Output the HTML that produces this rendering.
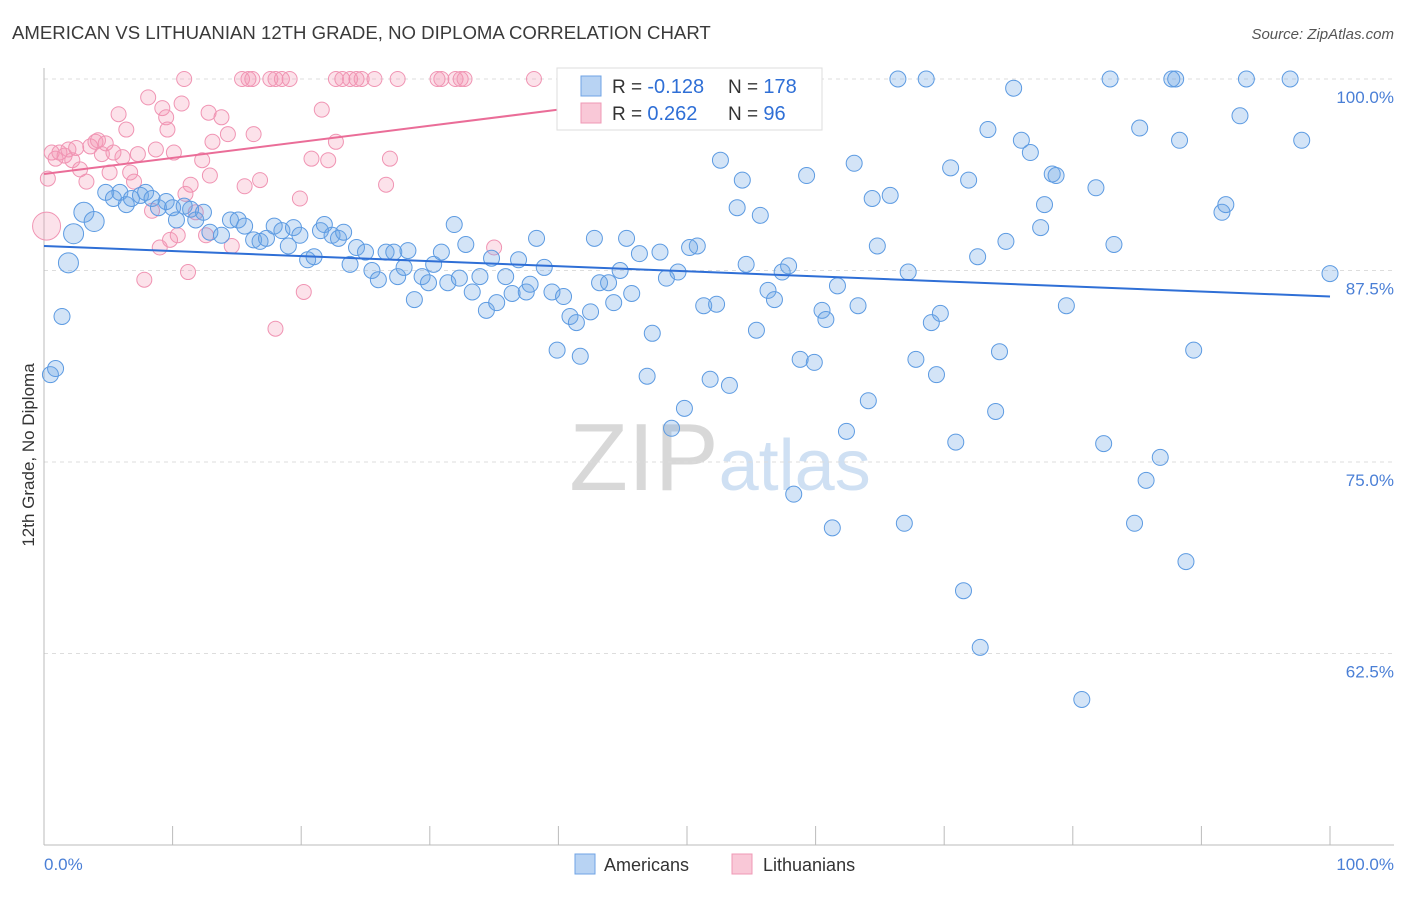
<!DOCTYPE html>
<html><head><meta charset="utf-8">
<style>
body{margin:0;background:#fff;font-family:"Liberation Sans",sans-serif;}
svg text{font-family:"Liberation Sans",sans-serif;}
</style></head>
<body>
<svg id="chart" width="1406" height="892" xmlns="http://www.w3.org/2000/svg">
<text x="12" y="39" font-size="18.6" fill="#3a3a3a">AMERICAN VS LITHUANIAN 12TH GRADE, NO DIPLOMA CORRELATION CHART</text>
<text x="1394" y="39" font-size="15" fill="#555" text-anchor="end" font-style="italic">Source: ZipAtlas.com</text>
<text x="720" y="490" font-size="96" fill="#ddd" text-anchor="middle" font-family="Liberation Serif"><tspan fill="#d8d8d8">ZIP</tspan><tspan fill="#cfe0f3" font-family="Liberation Sans" font-size="72">atlas</tspan></text>
<g id="grid"></g>
<g id="axes"></g>
<g id="pts"></g>
<g id="trends"></g>
<text transform="translate(34,455) rotate(-90)" font-size="17" fill="#333" text-anchor="middle">12th Grade, No Diploma</text>
<text x="44" y="870" font-size="17" fill="#4a7fd6">0.0%</text>
<text x="1394" y="870" font-size="17" fill="#4a7fd6" text-anchor="end">100.0%</text>
<g>
<rect x="557" y="68" width="265" height="62" fill="#fff" stroke="#ddd"/>
<rect x="581" y="76" width="20" height="20" fill="#b8d3f3" stroke="#6fa3e4"/>
<rect x="581" y="103" width="20" height="20" fill="#f9c8d7" stroke="#ef98b5"/>
<text x="612" y="93" font-size="19" fill="#333">R = <tspan fill="#2f6fd6" font-size="20">-0.128</tspan></text>
<text x="728" y="93" font-size="19" fill="#333">N = <tspan fill="#2f6fd6" font-size="20">178</tspan></text>
<text x="612" y="120" font-size="19" fill="#333">R = <tspan fill="#2f6fd6" font-size="20"> 0.262</tspan></text>
<text x="728" y="120" font-size="19" fill="#333">N = <tspan fill="#2f6fd6" font-size="20"> 96</tspan></text>
</g>
<g>
<rect x="575" y="854" width="20" height="20" fill="#b8d3f3" stroke="#6fa3e4"/>
<text x="604" y="871" font-size="18" fill="#333">Americans</text>
</g>
<g>
<rect x="732" y="854" width="20" height="20" fill="#f9c8d7" stroke="#ef98b5"/>
<text x="763" y="871" font-size="18" fill="#333">Lithuanians</text>
</g>
</svg>
<script>
const yTicks=[100,87.5,75,62.5];
const yTickLabels=["100.0%","87.5%","75.0%","62.5%"];
const xTicks=[0,10,20,30,40,50,60,70,80,90,100];
const blueX=[0.5,0.9,1.4,1.9,2.3,3.1,3.9,4.8,5.4,5.9,6.4,6.8,7.5,7.9,8.4,8.9,9.5,10.0,10.3,10.9,11.4,11.8,12.4,12.9,13.8,14.5,15.1,15.6,16.3,16.8,17.3,17.9,18.5,19.0,19.4,19.9,20.5,21.0,21.5,21.8,22.4,22.9,23.3,23.8,24.3,25.0,25.5,26.0,26.6,27.2,27.5,28.0,28.3,28.8,29.4,29.9,30.3,30.9,31.4,31.9,32.3,32.8,33.3,33.9,34.4,34.8,35.2,35.9,36.4,36.9,37.5,37.8,38.3,38.9,39.5,39.9,40.4,40.9,41.4,41.7,42.5,42.8,43.2,43.9,44.3,44.8,45.3,45.7,46.3,46.9,47.3,47.9,48.4,48.8,49.3,49.8,50.2,50.8,51.3,51.8,52.3,52.6,53.3,53.9,54.3,54.6,55.4,55.7,56.3,56.8,57.4,57.9,58.3,58.8,59.3,59.9,60.5,60.8,61.3,61.7,62.4,63.0,63.3,64.1,64.4,64.8,65.8,66.4,66.9,67.2,67.8,68.6,69.0,69.4,69.7,70.5,70.9,71.5,71.9,72.6,72.8,73.4,74.0,74.3,74.8,75.4,76.0,76.7,77.5,77.8,78.4,78.7,79.5,80.7,81.8,82.4,82.9,83.2,84.8,85.2,85.7,86.8,87.7,88.0,88.3,88.8,89.4,91.6,91.9,93.0,93.5,96.9,97.8,100];
const blueY=[80.7,81.1,84.5,88.0,89.9,91.3,90.7,92.6,92.2,92.6,91.8,92.2,92.4,92.6,92.2,91.6,92.0,91.6,90.8,91.7,91.5,90.8,91.3,90.0,89.8,90.8,90.8,90.4,89.5,89.4,89.6,90.4,90.1,89.1,90.3,89.8,88.2,88.4,90.1,90.5,89.8,89.6,90.0,87.9,89.0,88.7,87.5,86.9,88.7,88.7,87.1,87.7,88.8,85.6,87.1,86.7,87.9,88.7,86.7,90.5,87.0,89.2,86.1,87.1,84.9,88.3,85.4,87.1,86.0,88.2,86.1,86.6,89.6,87.7,86.1,82.3,85.8,84.5,84.1,81.9,84.8,89.6,86.7,86.7,85.4,87.5,89.6,86.0,88.6,80.6,83.4,88.7,87.0,77.2,87.4,78.5,89.0,89.1,85.2,80.4,85.3,94.7,80.0,91.6,93.4,87.9,83.6,91.1,86.2,85.6,87.4,87.8,72.9,81.7,93.7,81.5,84.9,84.3,70.7,86.5,77.0,94.5,85.2,79.0,92.2,89.1,92.4,100,71.0,87.4,81.7,100,84.1,80.7,84.7,94.2,76.3,66.6,93.4,88.4,62.9,96.7,78.3,82.2,89.4,99.4,96.0,95.2,90.3,91.8,93.8,93.7,85.2,59.5,92.9,76.2,100,89.2,71.0,96.8,73.8,75.3,100,100,96.0,68.5,82.3,91.3,91.8,97.6,100,100,96.0,87.3];
const pinkX=[10.9,15.4,15.9,16.2,17.6,18.0,18.5,19.1,22.7,23.2,23.8,24.3,24.7,25.7,27.5,30.6,30.9,32.0,32.4,32.7,38.1,0.2,0.3,0.6,0.9,1.2,1.6,1.9,2.2,2.5,2.8,3.3,3.6,4.0,4.2,4.5,4.8,5.1,5.4,5.8,6.1,6.4,6.7,7.0,7.3,7.8,8.1,8.4,8.7,9.0,9.2,9.5,9.6,9.8,10.1,10.4,10.7,11.0,11.2,11.4,11.8,12.3,12.6,12.8,12.9,13.1,13.8,14.3,14.6,15.6,16.3,16.8,18.0,19.9,20.2,20.8,21.6,22.1,22.7,26.6,26.9,35.0];
const pinkY=[100,100,100,100,100,100,100,100,100,100,100,100,100,100,100,100,100,100,100,100,100,90.4,93.5,95.2,94.8,95.2,95.0,95.4,94.7,95.5,94.1,93.3,95.6,95.9,96.0,95.1,95.8,93.9,95.2,97.7,94.9,96.7,93.9,93.3,95.1,86.9,98.8,91.4,95.4,89.0,98.1,97.5,96.7,89.5,95.2,89.8,98.4,92.5,87.4,93.1,91.3,94.7,89.8,97.8,93.7,95.9,97.5,96.4,89.1,93.0,96.4,93.4,83.7,92.2,86.1,94.8,98.0,94.7,95.9,93.1,94.8,89.0];
const blueTrend=[89.1,85.8];
const pinkTrend=[93.8,98.0];
const NS="http://www.w3.org/2000/svg";
const X=v=>44+v*12.86;
const Y=v=>79+(100-v)*15.32;
function mk(tag,attrs,parent){const e=document.createElementNS(NS,tag);for(const k in attrs)e.setAttribute(k,attrs[k]);parent.appendChild(e);return e;}
const grid=document.getElementById('grid'),axes=document.getElementById('axes'),pts=document.getElementById('pts'),tr=document.getElementById('trends');
yTicks.forEach((t,i)=>{
 const l=mk('line',{x1:44,x2:1394,y1:Y(t),y2:Y(t),stroke:'#ddd','stroke-dasharray':'4,4'},grid);
 
 
 const tx=mk('text',{x:1394,y:Y(t)+24,'font-size':17,fill:'#4a7fd6','text-anchor':'end'},grid);
 tx.textContent=yTickLabels[i];
 
 
});
const xa=mk('line',{x1:44,x2:1394,y1:845,y2:845,stroke:'#bbb'},axes);


const ya=mk('line',{x1:44,x2:44,y1:68,y2:845,stroke:'#bbb'},axes);


xTicks.forEach(t=>{
 const l=mk('line',{x1:X(t),x2:X(t),y1:826,y2:845,stroke:'#bbb'},axes);
 
 
});
pinkX.forEach((x,i)=>{
 const r=i==21?14:7.5;
 const c=mk('circle',{cx:X(x),cy:Y(pinkY[i]),r:r,fill:'rgba(245,150,180,0.28)',stroke:'#f094b3','stroke-width':1},pts);
 
 
});
blueX.forEach((x,i)=>{
 const r=(i==3||i==4||i==5||i==6)?10:8;
 const c=mk('circle',{cx:X(x),cy:Y(blueY[i]),r:r,fill:'rgba(110,165,230,0.3)',stroke:'#5d9be2','stroke-width':1},pts);
 
 
});
const bt=mk('line',{x1:X(0),y1:Y(blueTrend[0]),x2:X(100),y2:Y(blueTrend[1]),stroke:'#2f6fd6','stroke-width':2},tr);


const pt=mk('line',{x1:X(0),y1:Y(pinkTrend[0]),x2:X(40),y2:Y(pinkTrend[1]),stroke:'#ea6d98','stroke-width':2},tr);


</script>
</body></html>
